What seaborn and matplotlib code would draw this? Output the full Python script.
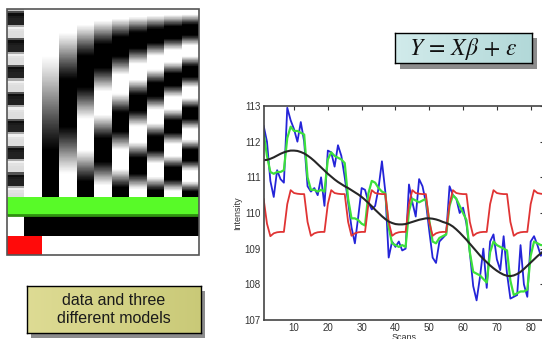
import numpy as np
import pandas as pd
import matplotlib
matplotlib.use("Agg")
import matplotlib.pyplot as plt
import seaborn as sns
from matplotlib.patches import Rectangle

# ---------------- data ----------------
scans = list(range(1, 85))

data_blue = [
    112.45, 112.00, 110.90, 110.45, 111.20, 110.95, 110.85, 112.95, 112.60, 112.35,
    112.00, 112.55, 112.00, 110.75, 110.60, 110.70, 110.50, 111.00, 110.20, 111.75,
    111.70, 111.30, 111.90, 111.60, 111.00, 110.30, 109.60, 109.15, 109.90, 110.70,
    110.65, 110.30, 110.10, 110.20, 110.70, 111.45, 110.60, 108.75, 109.20, 109.05,
    109.20, 108.95, 109.00, 110.80, 110.30, 109.90, 110.95, 110.75, 110.30, 109.50,
    108.75, 108.60, 109.20, 109.30, 109.40, 110.75, 110.50, 110.40, 110.00, 110.15,
    109.70, 108.90, 107.95, 107.55, 108.20, 109.00, 107.90, 109.20, 109.40, 108.70,
    108.40, 109.35, 108.30, 107.60, 107.65, 107.70, 109.10, 108.00, 107.65, 109.20,
    109.35, 109.10, 108.80, 109.00,
]

fit_green = [
    112.25, 111.60, 111.15, 111.10, 111.15, 111.15, 111.20, 112.10, 112.42, 112.30,
    112.30, 112.25, 112.20, 111.00, 110.65, 110.65, 110.60, 110.65, 110.60, 111.50,
    111.70, 111.60, 111.55, 111.50, 111.40, 110.40, 109.85, 109.85, 109.80, 109.70,
    109.65, 110.55, 110.90, 110.85, 110.70, 110.60, 110.55, 109.60, 109.15, 109.10,
    109.05, 109.10, 109.05, 110.05, 110.40, 110.35, 110.30, 110.35, 110.40, 109.80,
    109.20, 109.15, 109.30, 109.35, 109.40, 110.20, 110.50, 110.40, 110.20, 110.00,
    109.80, 108.90, 108.35, 108.30, 108.25, 108.15, 108.05, 108.90, 109.20, 109.10,
    109.05, 109.00, 108.95, 108.10, 107.70, 107.75, 107.80, 107.80, 107.85, 108.80,
    109.20, 109.15, 109.10, 109.10,
]

model_red = [
    110.40, 109.70, 109.35, 109.43, 109.46, 109.47, 109.47,
    110.25, 110.64, 110.56, 110.54, 110.53, 110.53,
    109.75, 109.36, 109.43, 109.46, 109.47, 109.47,
    110.25, 110.64, 110.56, 110.54, 110.53, 110.53,
    109.75, 109.36, 109.43, 109.46, 109.47, 109.47,
    110.25, 110.64, 110.56, 110.54, 110.53, 110.53,
    109.75, 109.36, 109.43, 109.46, 109.47, 109.47,
    110.25, 110.64, 110.56, 110.54, 110.53, 110.53,
    109.75, 109.36, 109.43, 109.46, 109.47, 109.47,
    110.25, 110.64, 110.56, 110.54, 110.53, 110.53,
    109.75, 109.36, 109.43, 109.46, 109.47, 109.47,
    110.25, 110.64, 110.56, 110.54, 110.53, 110.53,
    109.75, 109.36, 109.43, 109.46, 109.47, 109.47,
    110.25, 110.64, 110.56, 110.54, 110.53,
]

drift_black = [
    111.48, 111.49, 111.52, 111.56, 111.61, 111.66, 111.70, 111.73, 111.75, 111.75,
    111.74, 111.71, 111.67, 111.61, 111.54, 111.46, 111.37, 111.28, 111.19, 111.10,
    111.02, 110.94, 110.87, 110.81, 110.75, 110.70, 110.64, 110.58, 110.52, 110.45,
    110.37, 110.28, 110.19, 110.09, 110.00, 109.91, 109.83, 109.76, 109.72, 109.69,
    109.68, 109.68, 109.69, 109.72, 109.75, 109.78, 109.81, 109.83, 109.85, 109.85,
    109.84, 109.82, 109.79, 109.75, 109.72, 109.68, 109.62, 109.54, 109.45, 109.35,
    109.25, 109.14, 109.03, 108.92, 108.81, 108.71, 108.62, 108.53, 108.45, 108.38,
    108.32, 108.27, 108.24, 108.23, 108.25, 108.29, 108.35, 108.43, 108.52, 108.61,
    108.70, 108.79, 108.87, 108.94,
]

x_ticks = [10, 20, 30, 40, 50, 60, 70, 80]
y_ticks = [107, 108, 109, 110, 111, 112, 113]
dct_orders = [1, 2, 3, 4, 5, 6, 7, 8, 9]
equation = r"$Y\,=\,X\beta\,+\,\varepsilon$"
caption = "data and three\ndifferent models"

# ---------------- figure ----------------
sns.set_style("white")
plt.rcParams['font.family'] = ['Liberation Sans', 'DejaVu Sans']
plt.rcParams['mathtext.fontset'] = 'stix'

W, H = 542, 339
fig = plt.figure(figsize=(W / 100, H / 100), dpi=100)
fig.patch.set_facecolor("white")


def axes_px(x0, y0, x1, y1, **kw):
    return fig.add_axes([x0 / W, 1 - y1 / H, (x1 - x0) / W, (y1 - y0) / H], **kw)


def rect_px(x0, y0, x1, y1, **kw):
    r = Rectangle((x0 / W, 1 - y1 / H), (x1 - x0) / W, (y1 - y0) / H,
                  transform=fig.transFigure, **kw)
    fig.add_artist(r)
    return r


# ---- design matrix (rows sampled 4x per scan for a smooth image) ----
n = len(scans)
sub = 4
red_arr = np.array(model_red)
col_task = np.repeat(np.clip((red_arr - 110.0) / 0.62 * 0.85, -1, 1), sub)
col_const = np.ones(n * sub)
tt = (np.arange(n * sub) + 0.5) / (n * sub)
dct_cols = [np.clip(1.4 * np.cos(np.pi * k * tt), -1, 1) for k in dct_orders]
M = np.column_stack([col_task, col_const] + dct_cols)

ax_dm = axes_px(7, 9, 199, 197)
sns.heatmap(M, cmap="gray", vmin=-1, vmax=1, cbar=False,
            xticklabels=False, yticklabels=False, ax=ax_dm, rasterized=True)
ax_dm.set_axis_off()

ncol = M.shape[1]
ax_b = axes_px(7, 197, 199, 255)
ax_b.set_xlim(0, ncol)
ax_b.set_ylim(3, 0)
ax_b.set_axis_off()
ax_b.add_patch(Rectangle((0, 0), ncol, 1, facecolor="#58fa28", edgecolor="none"))
ax_b.plot([0, ncol], [0.95, 0.95], color="#2f8f10", lw=2, solid_capstyle="butt")
ax_b.add_patch(Rectangle((0, 1), 1, 1, facecolor="white", edgecolor="none"))
ax_b.add_patch(Rectangle((1, 1), ncol - 1, 1, facecolor="black", edgecolor="none"))
ax_b.add_patch(Rectangle((0, 2), 2, 1, facecolor="#ff0a0a", edgecolor="none"))
ax_b.add_patch(Rectangle((2, 2), ncol - 2, 1, facecolor="white", edgecolor="none"))

rect_px(7, 9, 199, 255, fill=False, edgecolor="#555555", lw=1.2, zorder=5)

# ---- time series plot ----
ax = axes_px(263.6, 106, 544.2, 320)
sns.lineplot(x=scans, y=data_blue, color="#2424d8", lw=1.3, ax=ax)
sns.lineplot(x=scans, y=fit_green, color="#3ce03c", lw=1.6, ax=ax)
sns.lineplot(x=scans, y=model_red, color="#e03434", lw=1.3, ax=ax)
sns.lineplot(x=scans, y=drift_black, color="#262626", lw=1.5, ax=ax)
ax.set_xlim(1, 84)
ax.set_ylim(107, 113)
ax.set_xticks(x_ticks)
ax.set_yticks(y_ticks)
ax.tick_params(direction="in", top=True, right=True, length=3, width=0.8,
               labelsize=7, pad=2, colors="#333333")
for sp in ax.spines.values():
    sp.set_visible(True)
    sp.set_color("#444444")
    sp.set_linewidth(1.2)
ax.set_xlabel("Scans", fontsize=6.5, color="#333333", labelpad=0.5)
ax.set_ylabel("Intensity", fontsize=6.5, color="#333333", labelpad=2)

# ---- equation box ----
rect_px(400, 38, 537, 69, facecolor="#8c8c8c", edgecolor="none", zorder=-5)
ax_eq = axes_px(395, 33, 532, 63)
grad = np.linspace(0, 1, 64)[None, :]
c0 = np.array([0.82, 0.92, 0.92])
c1 = np.array([0.70, 0.85, 0.85])
img = c0[None, None, :] * (1 - grad[..., None]) + c1[None, None, :] * grad[..., None]
ax_eq.imshow(img, aspect="auto", extent=[0, 1, 0, 1])
ax_eq.set_xticks([]); ax_eq.set_yticks([])
for sp in ax_eq.spines.values():
    sp.set_color("black"); sp.set_linewidth(1.0)
ax_eq.text(0.5, 0.47, equation, fontsize=17, ha="center", va="center",
           transform=ax_eq.transAxes, color="#111111")

# ---- caption box ----
rect_px(31, 291, 205, 338, facecolor="#8c8c8c", edgecolor="none", zorder=-5)
ax_cap = axes_px(27, 286, 201, 333)
d0 = np.array([0.87, 0.86, 0.58])
d1 = np.array([0.79, 0.79, 0.47])
img2 = d0[None, None, :] * (1 - grad[..., None]) + d1[None, None, :] * grad[..., None]
ax_cap.imshow(img2, aspect="auto", extent=[0, 1, 0, 1])
ax_cap.set_xticks([]); ax_cap.set_yticks([])
for sp in ax_cap.spines.values():
    sp.set_color("black"); sp.set_linewidth(1.0)
ax_cap.text(0.5, 0.5, caption, fontsize=11.5, ha="center", va="center",
            linespacing=1.25, transform=ax_cap.transAxes, color="#1a1a1a")

fig.savefig("out.png", dpi=100)
